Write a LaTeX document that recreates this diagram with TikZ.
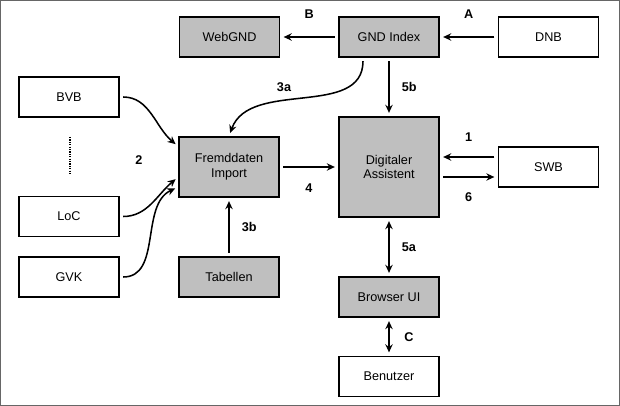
\documentclass[tikz,border=0pt]{standalone}
\usepackage{fontspec}
\setmainfont{Liberation Sans}
\usetikzlibrary{arrows.meta}
\begin{document}
\begin{tikzpicture}[x=0.75pt,y=-0.75pt,
  font=\fontsize{9.5}{11}\selectfont,
  box/.style={shape=rectangle,draw,line width=1.2pt,minimum width=75pt,minimum height=30pt,inner sep=0pt,align=center},
  grey/.style={box,fill=black!25},
  lbl/.style={font=\fontsize{9.5}{11}\selectfont\bfseries,inner sep=1pt},
  every edge/.style={draw,line width=1.15pt,shorten >=2.5pt,shorten <=2.5pt},
  >={Stealth[length=6pt,width=5.5pt]}]
\useasboundingbox (0,0) rectangle (620,406);
\draw[black!60,line width=0.8pt] (0.5,0.5) rectangle (619.5,405.5);

\node(webgnd) at (229.5,37)[grey]        {WebGND};
\node(gnd) at (389,37)[grey]             {GND Index};
\node(dnb) at (548.5,37)[box]            {DNB};
\node(bvb) at (69,97)[box]               {BVB};
\node(import) at (229,167)[grey,minimum height=45pt] {Fremddaten\\Import};
\node(assist) at (389,167)[grey,minimum height=75pt] {Digitaler\\Assistent};
\node(swb) at (548.5,167)[box]           {SWB};
\node(loc) at (69,216.5)[box]            {LoC};
\node(gvk) at (69,277)[box]              {GVK};
\node(tab) at (229,277)[grey]            {Tabellen};
\node(ui) at (389,297)[grey]             {Browser UI};
\node(user) at (389,376.5)[box]          {Benutzer};

\coordinate(dotstop) at (70,137);
\coordinate(dotsbot) at (70,174);
\draw[line width=1pt,dash pattern=on 0.9pt off 0.9pt] (dotstop) -- (dotsbot);

\node(l2) at (139,160)[lbl]  {2};
\node(l3a) at (284,87)[lbl]  {3a};

\path [->]
  (gnd)      edge                 node [lbl,above=12pt]  {B}     (webgnd)
  (dnb)      edge                 node [lbl,above=12pt]  {A}     (gnd)
  (gnd)      edge                 node [lbl,right=8pt]   {5b}    (assist)
  (import)   edge                 node [lbl,below=11pt]  {4}     (assist)
  ([yshift=7.5pt]swb.west)    edge  node [lbl,above=10pt] {1}   ([yshift=7.5pt]assist.east)
  ([yshift=-7.5pt]assist.east) edge node [lbl,below=10pt] {6}   ([yshift=-7.5pt]swb.west)
  (tab)      edge                 node [lbl,right=8pt]   {3b}    (import)
  ([xshift=-19.5pt]gnd.south) edge [out=-90,in=70] (import.north)
  (bvb.east) edge [out=0,in=140]  ([yshift=15.5pt]import.west)
  (loc.east) edge [out=0,in=-140] ([yshift=-7.5pt]import.west)
  (gvk.east) edge [out=0,in=-155] ([yshift=-15pt]import.west);

\path [<->]
  (assist)   edge                 node [lbl,right=8pt]   {5a}    (ui)
  (ui)       edge                 node [lbl,right=10pt]  {C}     (user);
\end{tikzpicture}
\end{document}
